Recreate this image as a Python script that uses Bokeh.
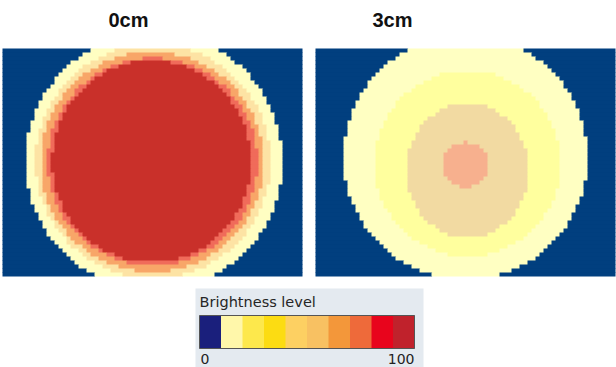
import numpy as np
from bokeh.plotting import figure
from bokeh.models import Range1d, ColumnDataSource
from bokeh.embed import file_html
from bokeh.resources import INLINE
from bokeh.core.properties import value

# ---------------- data ----------------
panel_titles = ["0cm", "3cm"]
background_color = "#013f7f"

# rings (outer -> inner) for each panel: centre x / y, radii x / y (pixels), colour
left_ring_cx = [153.5, 152.5, 151.5, 152.0, 151.0]
left_ring_cy = [161.0, 161.0, 161.5, 161.5, 161.0]
left_ring_rx = [128.5, 117.5, 111.5, 105.0, 99.5]
left_ring_ry = [128.5, 117.0, 110.0, 104.0, 101.0]
left_ring_colors = ["#fffec2", "#fde3a4", "#f8a668", "#f06b5a", "#c9302a"]

right_ring_cx = [465.0, 467.0, 467.0, 465.0]
right_ring_cy = [157.0, 163.0, 170.0, 164.5]
right_ring_rx = [122.0, 93.0, 61.0, 23.0]
right_ring_ry = [122.0, 93.0, 67.0, 22.5]
right_ring_colors = ["#ffffc2", "#ffff9e", "#f2daa2", "#f7b08e"]

legend_title = "Brightness level"
legend_colors = ["#1a1f7c", "#fff7aa", "#fde84c", "#fcdc12", "#fdd062",
                 "#f8c162", "#f3973a", "#ee6a3a", "#e8041c", "#c0222c"]
legend_tick_labels = ["0", "100"]

# ---------------- layout ----------------
W, H = 616, 367
CELL = 4
NCOLS, NROWS = 75, 57
panel_x0 = [2, 315]
panel_y0 = 48

p = figure(width=W, height=H, x_range=Range1d(0, W), y_range=Range1d(H, 0),
           output_backend="svg", toolbar_location=None, min_border=0,
           background_fill_color="white", border_fill_color="white")
p.axis.visible = False
p.grid.visible = False
p.outline_line_color = None


def panel_runs(x0, cxs, cys, rxs, rys, colors):
    """Classify each grid cell, then merge horizontal runs of one colour."""
    left, right, top, bottom, cs = [], [], [], [], []
    for r in range(NROWS):
        y = panel_y0 + (r + 0.5) * CELL
        row = []
        for c in range(NCOLS):
            x = x0 + (c + 0.5) * CELL
            col = background_color
            for cx, cy, rx, ry, cc in zip(cxs, cys, rxs, rys, colors):
                if ((x - cx) / rx) ** 2 + ((y - cy) / ry) ** 2 <= 1.0:
                    col = cc
            row.append(col)
        start = 0
        for c in range(1, NCOLS + 1):
            if c == NCOLS or row[c] != row[start]:
                left.append(x0 + start * CELL)
                right.append(x0 + c * CELL + (0.6 if c < NCOLS else 0))
                top.append(panel_y0 + r * CELL)
                bottom.append(panel_y0 + (r + 1) * CELL + (0.6 if r < NROWS - 1 else 0))
                cs.append(row[start])
                start = c
    return dict(left=left, right=right, top=top, bottom=bottom, c=cs)


panels = [
    (left_ring_cx, left_ring_cy, left_ring_rx, left_ring_ry, left_ring_colors),
    (right_ring_cx, right_ring_cy, right_ring_rx, right_ring_ry, right_ring_colors),
]
title_x = [128, 392]

for i, (cxs, cys, rxs, rys, cols) in enumerate(panels):
    src = ColumnDataSource(panel_runs(panel_x0[i], cxs, cys, rxs, rys, cols))
    p.quad(left="left", right="right", top="top", bottom="bottom", source=src,
           fill_color="c", line_color=None)
    p.text(x=[title_x[i]], y=[19], text=[panel_titles[i]],
           text_font=value("Liberation Sans"), text_font_style="bold",
           text_font_size="20px", text_align="center", text_baseline="middle",
           text_color="#111111")

# legend box
p.quad(left=[195], right=[423], top=[288], bottom=[367],
       fill_color="#e4eaf0", line_color=None)
p.text(x=[199], y=[301], text=[legend_title], text_font=value("DejaVu Sans"),
       text_font_size="14.5px", text_align="left", text_baseline="middle",
       text_color="#262626")

bar_left, bar_right, bar_top, bar_bottom = 199.0, 414.0, 315.0, 348.0
n = len(legend_colors)
w = (bar_right - bar_left) / n
lefts = [bar_left + k * w for k in range(n)]
p.quad(left=lefts, right=[l + w + 0.5 for l in lefts], top=bar_top, bottom=bar_bottom,
       fill_color=legend_colors, line_color=None)
p.quad(left=[bar_left], right=[bar_right], top=[bar_top], bottom=[bar_bottom],
       fill_color=None, line_color="#555555", line_width=1)
p.text(x=[bar_left + 1, bar_right], y=[358, 358], text=legend_tick_labels,
       text_font=value("DejaVu Sans"), text_font_size="14px",
       text_align=["left", "right"], text_baseline="middle", text_color="#222222")

open("out.html", "w").write(file_html(p, INLINE))
